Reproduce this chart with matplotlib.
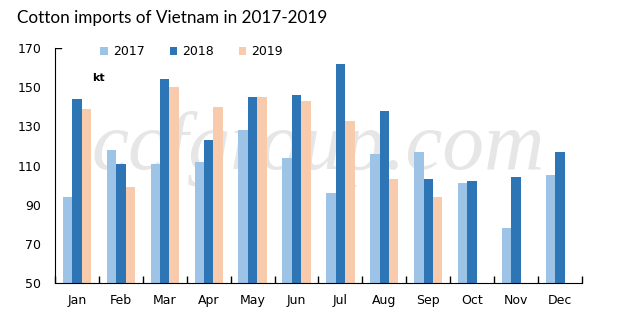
import matplotlib

matplotlib.use('Agg')
import matplotlib.pyplot as plt
import numpy as np

# 数据（单位：kt）
months = ['Jan', 'Feb', 'Mar', 'Apr', 'May', 'Jun', 'Jul', 'Aug', 'Sep', 'Oct', 'Nov', 'Dec']
imports_2017 = [94, 118, 111, 112, 128, 114, 96, 116, 117, 101, 78, 105]
imports_2018 = [144, 111, 154, 123, 145, 146, 162, 138, 103, 102, 104, 117]
imports_2019 = [139, 99, 150, 140, 145, 143, 133, 103, 94, None, None, None]

colors = ['#9DC3E6', '#2E75B6', '#F8CBAD']
labels = ['2017', '2018', '2019']

fig = plt.figure(figsize=(6.43, 3.32), dpi=100)
ax = fig.add_axes([0.0855, 0.1467, 0.8195, 0.7087])

# 水印（放在柱子后面）
ax.text(0.50, 0.57, 'ccfgroup.com', transform=ax.transAxes, fontsize=60,
        family='Liberation Serif', style='italic', color='#e6e6e6',
        ha='center', va='center', zorder=0)

x = np.arange(len(months))
w = 0.215
for i, (vals, c, lab) in enumerate(zip([imports_2017, imports_2018, imports_2019], colors, labels)):
    xs = [xi + (i - 1) * w for xi, v in zip(x, vals) if v is not None]
    hs = [v - 50 for v in vals if v is not None]
    ax.bar(xs, hs, bottom=50, width=w, color=c, label=lab, zorder=2)

ax.set_xlim(-0.5, len(months) - 0.5)
ax.set_ylim(50, 170)
ax.set_yticks(range(50, 171, 20))
ax.set_xticks(x)
ax.set_xticklabels(months)
ax.set_xticks(np.arange(-0.5, len(months), 1), minor=True)
ax.tick_params(axis='x', which='major', length=0, labelsize=9, pad=8)
ax.tick_params(axis='x', which='minor', direction='in', length=5, width=1)
ax.tick_params(axis='y', length=0, labelsize=9, pad=10)
ax.axhline(170, xmin=0, xmax=0.012, color='black', lw=1)

for s in ['top', 'right']:
    ax.spines[s].set_visible(False)
ax.patch.set_alpha(0)

ax.legend(loc='upper left', bbox_to_anchor=(0.065, 1.06), ncol=3, frameon=False,
          fontsize=9, handlelength=0.6, handleheight=0.6, columnspacing=2.0, handletextpad=0.4)

ax.text(0.07, 0.86, 'kt', transform=ax.transAxes, fontsize=8, fontweight='bold')

fig.text(0.026, 0.945, 'Cotton imports of Vietnam in 2017-2019', fontsize=12.3, family='Lato',
         ha='left', va='center')

fig.savefig('out.png', dpi=100)
